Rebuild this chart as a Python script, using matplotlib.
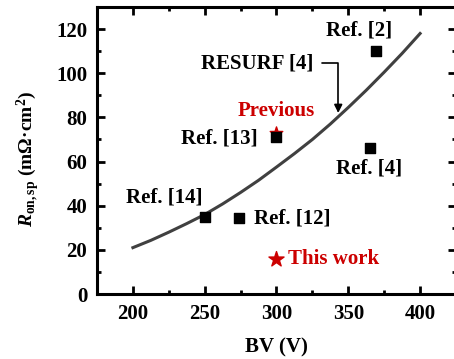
import matplotlib
matplotlib.use("Agg")
import matplotlib.pyplot as plt
from matplotlib.ticker import MultipleLocator

plt.rcParams['font.family'] = ['Liberation Serif', 'DejaVu Serif']
plt.rcParams['font.weight'] = 'bold'
plt.rcParams['axes.labelweight'] = 'bold'
plt.rcParams['mathtext.fontset'] = 'custom'
plt.rcParams['mathtext.rm'] = 'Liberation Serif:bold'
plt.rcParams['mathtext.it'] = 'Liberation Serif:bold:italic'
plt.rcParams['mathtext.bf'] = 'Liberation Serif:bold'

# RESURF limit curve
resurf_bv = [200, 212.5, 225, 237.5, 250, 262.5, 275, 287.5, 300,
             312.5, 325, 337.5, 350, 362.5, 375, 387.5, 400]
resurf_ron = [21, 24.3, 28, 31.9, 36, 40.8, 46, 51.5, 57.5,
              63.6, 70, 77, 84.5, 92.3, 100.5, 109, 118]

# reported devices
ref_names = ['Ref. [2]', 'Ref. [4]', 'Ref. [13]', 'Ref. [14]', 'Ref. [12]']
ref_bv = [369, 365, 300, 250, 274]
ref_ron = [110, 66, 71, 35, 34.5]

prev_bv, prev_ron = 300, 73
this_bv, this_ron = 300, 16

red = '#cc0000'

fig = plt.figure(figsize=(4.54, 3.59), dpi=100)
ax = fig.add_axes([97 / 454, 65 / 359, 359 / 454, 287 / 359])

ax.plot(resurf_bv, resurf_ron, color='#404040', lw=2.2, zorder=2)
ax.scatter(ref_bv, ref_ron, marker='s', s=55, color='black', zorder=3)
ax.scatter([prev_bv], [prev_ron], marker='*', s=90, color=red, zorder=2.5)
ax.scatter([this_bv], [this_ron], marker='*', s=130, color=red, zorder=3)

fs = 15
ax.text(357.5, 119.5, 'Ref. [2]', ha='center', va='center', fontsize=fs)
ax.text(364.5, 57, 'Ref. [4]', ha='center', va='center', fontsize=fs)
ax.text(287, 70.5, 'Ref. [13]', ha='right', va='center', fontsize=fs)
ax.text(222, 43.6, 'Ref. [14]', ha='center', va='center', fontsize=fs)
ax.text(284, 34, 'Ref. [12]', ha='left', va='center', fontsize=fs)
ax.text(300, 83, 'Previous', ha='center', va='center', fontsize=fs, color=red)
ax.text(308, 16, 'This work', ha='left', va='center', fontsize=fs, color=red)

ax.annotate('RESURF [4]', xy=(343, 82), xytext=(326, 104.5),
            ha='right', va='center', fontsize=fs,
            arrowprops=dict(arrowstyle='-|>', color='black', lw=1.2,
                            connectionstyle='angle,angleA=0,angleB=90,rad=0',
                            shrinkA=4, shrinkB=0, mutation_scale=12))

ax.set_xlim(175, 425)
ax.set_ylim(0, 130)
ax.xaxis.set_major_locator(MultipleLocator(50))
ax.xaxis.set_minor_locator(MultipleLocator(25))
ax.yaxis.set_major_locator(MultipleLocator(20))
ax.yaxis.set_minor_locator(MultipleLocator(10))
ax.tick_params(which='both', direction='in', top=True, right=True,
               labelsize=fs, width=2)
ax.tick_params(which='major', length=6, pad=7)
ax.tick_params(which='minor', length=3)
for sp in ax.spines.values():
    sp.set_linewidth(2.2)

ax.set_xlabel('BV (V)', fontsize=fs, labelpad=10)
ax.set_ylabel(r'$R_{\mathrm{on,sp}}$ (mΩ·cm$^2$)', fontsize=14)
ax.yaxis.set_label_coords(-0.153, 0.472)

fig.savefig('out.png', dpi=100)
